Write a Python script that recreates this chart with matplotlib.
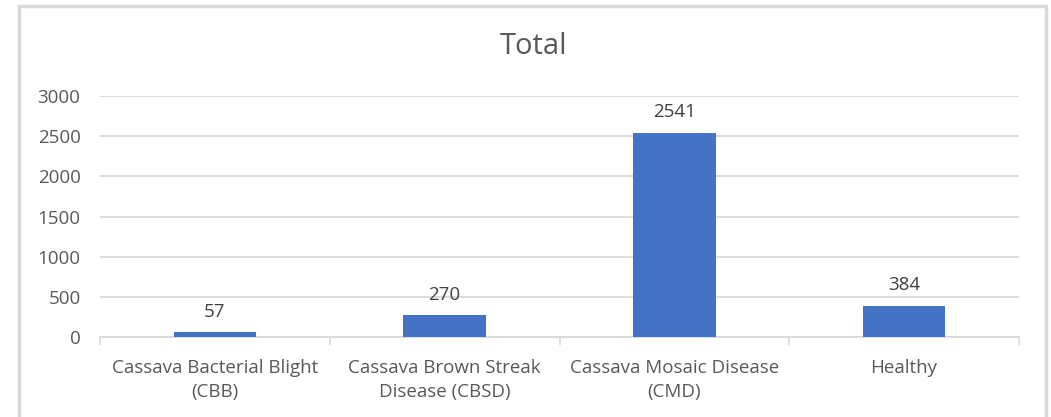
import matplotlib
matplotlib.use("Agg")
import matplotlib.pyplot as plt
from matplotlib.patches import Rectangle

categories = ["Cassava Bacterial Blight\n(CBB)", "Cassava Brown Streak\nDisease (CBSD)",
              "Cassava Mosaic Disease\n(CMD)", "Healthy"]
values = [57, 270, 2541, 384]
yticks = [0, 500, 1000, 1500, 2000, 2500, 3000]

W, H = 1051, 417
fig = plt.figure(figsize=(W / 100, H / 100), dpi=100)
plt.rcParams['font.family'] = ['Open Sans', 'DejaVu Sans']

# outer chart border
fig.patches.append(Rectangle((19 / W, -0.1), (1046 - 19) / W, 1 - 6 / H + 0.1,
                             transform=fig.transFigure, fill=False,
                             edgecolor="#d9d9d9", linewidth=2.5))

left, right, top, bottom = 100, 1019, 96, 337
ax = fig.add_axes([left / W, 1 - bottom / H, (right - left) / W, (bottom - top) / H])

x = list(range(len(categories)))
bars = ax.bar(x, values, width=0.36, color="#4472C4", zorder=3)
for xi, v in zip(x, values):
    ax.annotate(str(v), (xi, v), xytext=(0, 8.5), textcoords="offset points",
                ha="center", va="bottom", fontsize=13.5, color="#404040")

ax.set_xlim(-0.5, len(categories) - 0.5)
ax.set_ylim(0, 3000)
ax.set_yticks(yticks)
ax.set_yticklabels([str(t) for t in yticks], fontsize=13.5, color="#595959")
ax.set_xticks(x)
ax.set_xticklabels(categories, fontsize=13.5, color="#595959", linespacing=1.4)
ax.tick_params(axis="x", length=0, pad=16)
ax.tick_params(axis="y", length=0, pad=14)
# category boundary tick marks
ax.set_xticks([i - 0.5 for i in range(len(categories) + 1)], minor=True)
ax.tick_params(axis="x", which="minor", length=6, width=1.2, color="#d9d9d9", direction="out")

ax.grid(axis="y", color="#d9d9d9", linewidth=1.3, zorder=0)
for s in ["top", "right", "left"]:
    ax.spines[s].set_visible(False)
ax.spines["bottom"].set_color("#d9d9d9")
ax.spines["bottom"].set_linewidth(1.3)

fig.text(533 / W, 1 - 46 / H, "Total", ha="center", va="center",
         fontsize=21, color="#595959")

fig.savefig("out.png", dpi=100, facecolor="white")
